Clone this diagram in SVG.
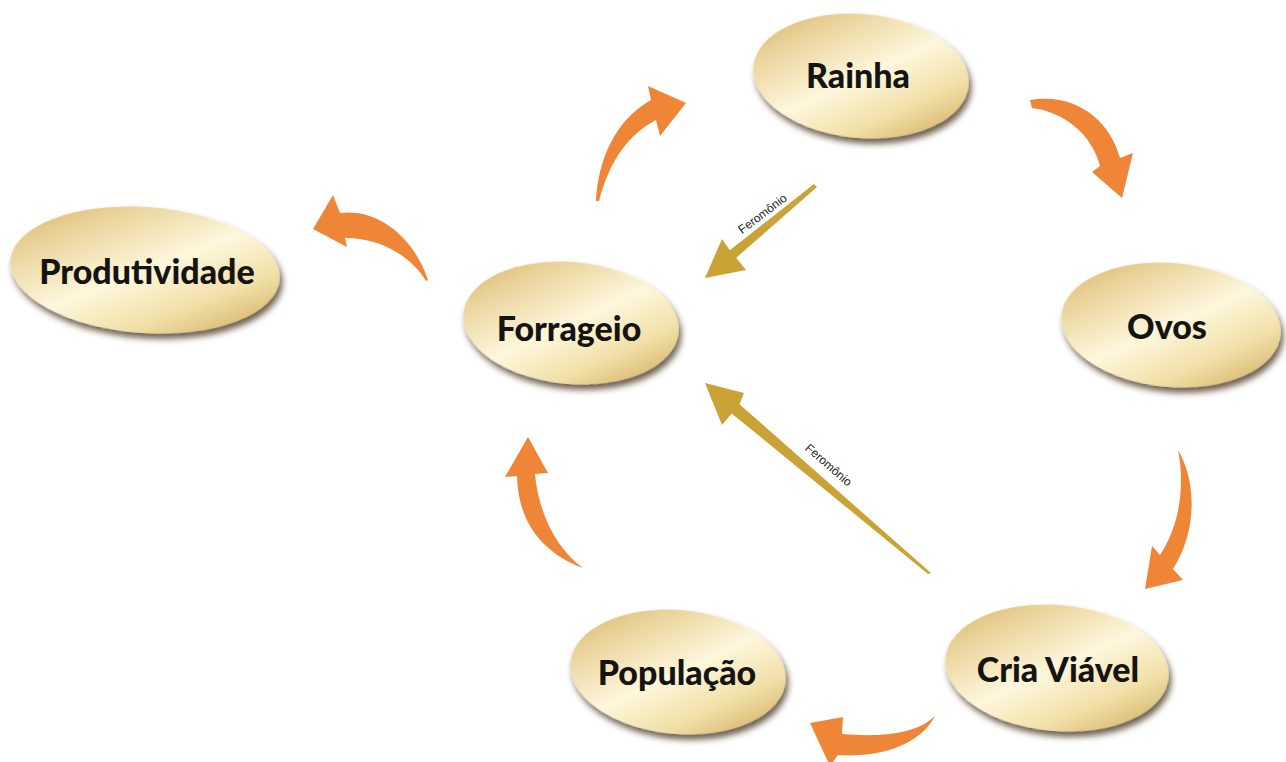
<svg xmlns="http://www.w3.org/2000/svg" width="1286" height="762" viewBox="0 0 1286 762">
<defs>
<linearGradient id="gold" x1="0" y1="0" x2="1" y2="1">
<stop offset="0" stop-color="#d3ac5e"/>
<stop offset="0.22" stop-color="#ead39a"/>
<stop offset="0.5" stop-color="#fdf7dc"/>
<stop offset="0.72" stop-color="#f1e0a8"/>
<stop offset="1" stop-color="#c9a150"/>
</linearGradient>
<filter id="sh" x="-20%" y="-20%" width="140%" height="150%">
<feDropShadow dx="3" dy="5" stdDeviation="3" flood-color="#3d2a0e" flood-opacity="0.75"/>
</filter>
<style>
.node ellipse{fill:url(#gold);filter:url(#sh)}
.node text{font-family:Lato,"Open Sans","Liberation Sans",sans-serif;font-weight:900;font-size:34px;fill:#161412;text-anchor:middle}
.orange{fill:#ef8536}
.pher{fill:#c9a336}
.lbl{font-family:"Liberation Sans",Arial,sans-serif;font-size:12px;fill:#222;text-anchor:middle}
</style>
</defs>
<rect width="1286" height="762" fill="#ffffff"/>
<g id="connectors">
<path class="orange" d="M596,201 C598,160 615,120 651,100 L648,86 L686,103 L660,136 L656,120 C628,135 610,160 599,201 Z"/>
<path class="orange" d="M1030,100 C1075,92 1110,120 1120,158 L1133,153 L1122,198 L1092,172 L1100,166 C1092,135 1065,112 1032,108 Z"/>
<path class="orange" d="M1178,450 C1196,480 1198,530 1173,569 L1183,580 L1145,589 L1152,546 L1160,555 C1180,525 1185,485 1178,450 Z"/>
<path class="orange" d="M935,716 C915,735 880,737 842,734 L843,717 L810,723 L830,766 L838,755 C880,758 920,745 935,716 Z"/>
<path class="orange" d="M583,568 C555,548 538,510 535,474 L548,473 L528,437 L505,477 L517,476 C518,520 540,552 583,568 Z"/>
<path class="orange" d="M428,280 C415,240 380,208 340,213 L333,195 L313,229 L347,247 L345,238 C380,238 410,255 426,281 Z"/>
<path class="pher" d="M814,184 L729.8,250.2 L722,239 L705,278 L746,270 L736.2,257.8 L817,187 Z"/>
<path class="pher" d="M705,383 L744,393 L739.5,404.2 L931,573 L928,574 L731.7,413.4 L722,425 Z"/>
<text class="lbl" transform="translate(765,217) rotate(-37)">Feromônio</text>
<text class="lbl" transform="translate(826,468) rotate(41)">Feromônio</text>
</g>
<g id="rainha" class="node"><ellipse cx="861" cy="76" rx="108" ry="62" transform="rotate(5 861 76)"/><text x="858" y="88">Rainha</text></g>
<g id="produtividade" class="node"><ellipse cx="145" cy="270" rx="135" ry="63" transform="rotate(4 145 270)"/><text x="147" y="284">Produtividade</text></g>
<g id="forrageio" class="node"><ellipse cx="571" cy="323" rx="108" ry="61" transform="rotate(5 571 323)"/><text x="569" y="341">Forrageio</text></g>
<g id="ovos" class="node"><ellipse cx="1171" cy="325" rx="110" ry="62" transform="rotate(5 1171 325)"/><text x="1167" y="339">Ovos</text></g>
<g id="cria" class="node"><ellipse cx="1057" cy="668" rx="112" ry="63" transform="rotate(5 1057 668)"/><text x="1058" y="682">Cria Viável</text></g>
<g id="populacao" class="node"><ellipse cx="678" cy="672" rx="108" ry="62" transform="rotate(5 678 672)"/><text x="677" y="685">População</text></g>
</svg>
